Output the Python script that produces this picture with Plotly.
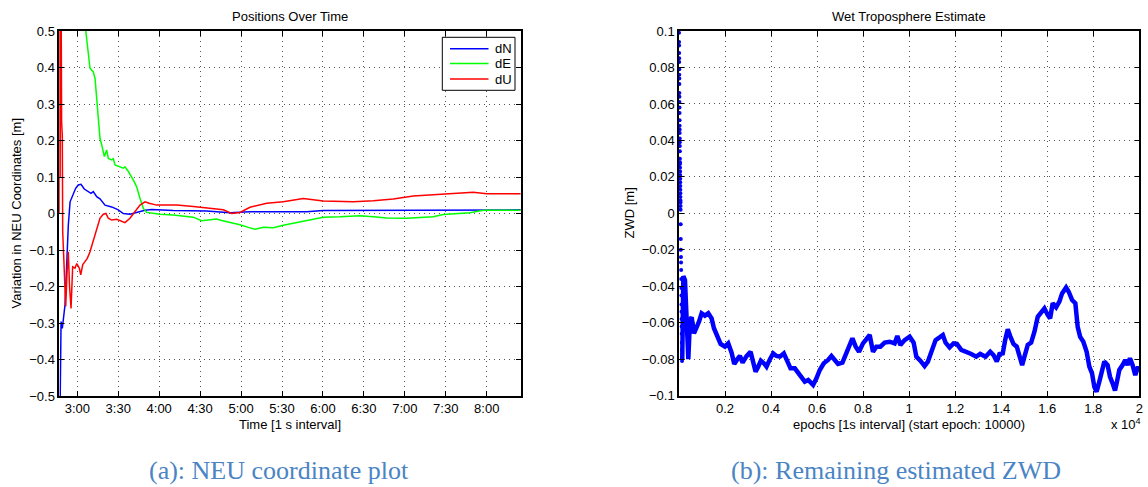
import plotly.graph_objects as go

# ---------------- NEU coordinate variation (left panel) ----------------
# time of day in minutes, values in metres
dN_t = [167.1, 167.5, 168.1, 169.0, 169.7, 171.0, 172.2, 173.4, 174.7, 175.9, 177.1,
        178.8, 180.7, 182.7, 185.1, 187.6, 190.0, 191.7, 194.2, 196.6, 200.3, 205.2,
        210.0, 213.7, 218.6, 224.7, 229.6, 234.5, 244.3, 250.3, 274.8, 291.9, 306.5,
        348.1, 360.2, 396.9, 445.7, 470.1, 505.0]
dN = [-0.62, -0.40, -0.296, -0.315, -0.287, -0.25, -0.141, -0.032, 0.032, 0.042, 0.055,
      0.069, 0.078, 0.080, 0.067, 0.060, 0.055, 0.060, 0.046, 0.040, 0.023, 0.018,
      0.010, 0.0, -0.002, 0.004, 0.009, 0.011, 0.009, 0.008, 0.007, 0.002, 0.005,
      0.005, 0.008, 0.009, 0.010, 0.010, 0.010]

dE_t = [167.0, 186.2, 189.3, 191.7, 193.0, 194.2, 195.4, 196.6, 197.9, 199.8, 201.5,
        202.7, 205.2, 206.4, 207.6, 211.3, 213.7, 214.9, 217.4, 221.0, 223.5, 225.9,
        228.4, 230.8, 236.9, 240.6, 250.3, 261.3, 265.0, 271.1, 277.2, 282.1, 285.8,
        291.9, 299.2, 305.3, 310.2, 316.3, 323.6, 330.9, 343.2, 352.9, 360.2, 372.5,
        387.1, 396.9, 406.7, 421.3, 431.1, 440.8, 448.2, 458.0, 467.7, 477.5, 505.0]
dE = [1.30, 0.50, 0.398, 0.388, 0.37, 0.306, 0.26, 0.206, 0.188, 0.156, 0.174,
      0.151, 0.147, 0.150, 0.133, 0.128, 0.124, 0.128, 0.115, 0.092, 0.073, 0.042,
      0.014, 0.003, 0.0, -0.002, -0.004, -0.007, -0.010, -0.020, -0.018, -0.015, -0.019,
      -0.024, -0.031, -0.038, -0.043, -0.038, -0.039, -0.032, -0.022, -0.015, -0.010, -0.009,
      -0.006, -0.009, -0.012, -0.013, -0.011, -0.009, -0.003, 0.0, 0.002, 0.009, 0.009]

dU_t = [166.8, 167.0, 167.4, 167.9, 168.5, 169.0, 169.3, 170.5, 171.5, 172.5, 173.4,
        174.3, 175.4, 176.6, 178.3, 179.6, 181.5, 182.5, 184.0, 185.6, 187.3, 189.3,
        191.7, 194.2, 196.6, 199.0, 201.0, 202.7, 205.2, 208.9, 212.5, 214.9, 218.6,
        221.0, 225.9, 229.6, 232.6, 238.2, 252.8, 265.0, 269.9, 279.6, 287.0, 293.1,
        299.2, 306.5, 318.8, 330.9, 345.6, 360.2, 382.2, 396.9, 411.5, 426.2, 445.7,
        470.1, 480.0, 505.0]
dU = [0.0, 0.75, 0.10, 0.80, 0.25, 0.215, -0.05, -0.18, -0.255, -0.16, -0.105,
      -0.20, -0.26, -0.146, -0.150, -0.137, -0.150, -0.168, -0.140, -0.132, -0.123, -0.105,
      -0.077, -0.045, -0.013, -0.002, 0.0, -0.013, -0.018, -0.016, -0.022, -0.025, -0.013,
      0.0, 0.023, 0.032, 0.028, 0.023, 0.023, 0.019, 0.017, 0.011, 0.010, 0.0,
      0.003, 0.017, 0.028, 0.032, 0.041, 0.034, 0.032, 0.035, 0.040, 0.048, 0.052,
      0.058, 0.054, 0.054]

neu_series = ["dN", "dE", "dU"]
neu_colors = {"dN": "#0000ff", "dE": "#00ff00", "dU": "#ff0000"}

time_ticks = [180, 210, 240, 270, 300, 330, 360, 390, 420, 450, 480]
time_labels = ["3:00", "3:30", "4:00", "4:30", "5:00", "5:30", "6:00", "6:30", "7:00", "7:30", "8:00"]
neu_ticks = [-0.5, -0.4, -0.3, -0.2, -0.1, 0.0, 0.1, 0.2, 0.3, 0.4, 0.5]
neu_labels = ["\u22120.5", "\u22120.4", "\u22120.3", "\u22120.2", "\u22120.1", "0",
              "0.1", "0.2", "0.3", "0.4", "0.5"]

# ---------------- ZWD estimate (right panel) ----------------
# convergence phase, epochs after start epoch 10000
zwd_init_epoch = [1, 3, 4, 6, 7, 9, 10, 12, 14, 15, 17, 19, 20, 22, 24, 25, 27, 29, 31, 32,
                  34, 36, 38, 40, 42, 44, 46, 48, 50, 52, 54, 56, 58, 60, 62, 64, 66, 68, 70,
                  74, 78, 82, 86, 90, 94, 98, 102, 105, 108, 111, 114, 117, 120, 123, 126,
                  129, 132]
zwd_init = [0.099, 0.094, 0.092, 0.088, 0.085, 0.083, 0.079, 0.076, 0.074, 0.071, 0.066,
            0.064, 0.061, 0.058, 0.055, 0.051, 0.048, 0.046, 0.044, 0.041, 0.039, 0.037,
            0.034, 0.030, 0.028, 0.027, 0.025, 0.023, 0.021, 0.019, 0.017, 0.015, 0.013,
            0.011, 0.009, 0.007, 0.006, 0.004, 0.002, -0.006, -0.014, -0.020, -0.024,
            -0.027, -0.031, -0.036, -0.041, -0.045, -0.050, -0.054, -0.058, -0.062, -0.066,
            -0.071, -0.075, -0.079, -0.081]

zwd_epoch = [140, 188, 260, 304, 362, 405, 477, 550, 651, 767, 868, 983, 1128, 1272, 1417,
             1518, 1663, 1808, 1995, 2140, 2285, 2400, 2530, 2646, 2762, 2936, 3110, 3225,
             3327, 3442, 3557, 3687, 3803, 3947, 4092, 4237, 4381, 4555, 4700, 4845, 5032,
             5175, 5323, 5466, 5611, 5827, 5973, 6117, 6291, 6477, 6624, 6767, 6911, 7101,
             7245, 7388, 7535, 7678, 7822, 7995, 8169, 8286, 8429, 8577, 8750, 8937, 9154,
             9370, 9487, 9617, 9804, 10021, 10195, 10312, 10485, 10671, 10815, 10962, 11149,
             11322, 11465, 11583, 11756, 11930, 12073, 12264, 12481, 12698, 12915, 13089,
             13318, 13522, 13665, 13808, 13925, 14068, 14172, 14285, 14389, 14532, 14676,
             14793, 14910, 15010, 15153, 15301, 15444, 15587, 15734, 15877, 16020, 16125,
             16238, 16385, 16528, 16645, 16819, 16932, 17079, 17222, 17322, 17426, 17569,
             17712, 17829, 17946, 18046, 18146, 18263, 18380, 18480, 18623, 18727, 18840,
             18944, 19031, 19131, 19274, 19391, 19491, 19595, 19708, 19825, 19925, 20000]
zwd = [-0.0804, -0.0344, -0.0366, -0.0475, -0.0695, -0.0800, -0.0585, -0.0570, -0.0658,
       -0.0630, -0.0594, -0.0548, -0.0561, -0.0548, -0.0576, -0.0630, -0.0673, -0.0716,
       -0.0731, -0.0713, -0.0764, -0.0826, -0.0801, -0.0782, -0.0819, -0.0783, -0.0759,
       -0.0832, -0.0868, -0.0841, -0.0808, -0.0822, -0.0841, -0.0801, -0.0768, -0.0782,
       -0.0786, -0.0768, -0.0804, -0.0850, -0.0850, -0.0877, -0.0896, -0.0923, -0.0914,
       -0.0941, -0.0905, -0.0859, -0.0822, -0.0804, -0.0782, -0.0801, -0.0826, -0.0819,
       -0.0777, -0.0731, -0.0686, -0.0731, -0.0759, -0.0713, -0.0680, -0.0667, -0.0759,
       -0.0731, -0.0731, -0.0709, -0.0704, -0.0713, -0.0673, -0.0722, -0.0695, -0.0676,
       -0.0709, -0.0786, -0.0808, -0.0837, -0.0813, -0.0768, -0.0695, -0.0680, -0.0667,
       -0.0709, -0.0735, -0.0713, -0.0716, -0.0749, -0.0759, -0.0771, -0.0786, -0.0771,
       -0.0786, -0.0759, -0.0777, -0.0813, -0.0771, -0.0768, -0.0695, -0.0636, -0.0673,
       -0.0716, -0.0731, -0.0786, -0.0832, -0.0786, -0.0722, -0.0709, -0.0649, -0.0567,
       -0.0539, -0.0521, -0.0557, -0.0576, -0.0493, -0.0515, -0.0484, -0.0439, -0.0406,
       -0.0430, -0.0475, -0.0493, -0.0622, -0.0676, -0.0704, -0.0759, -0.0841, -0.0877,
       -0.0951, -0.0978, -0.0923, -0.0850, -0.0813, -0.0832, -0.0896, -0.0932, -0.0972,
       -0.0923, -0.0859, -0.0832, -0.0804, -0.0832, -0.0795, -0.0832, -0.0887, -0.0850,
       -0.0850]

epoch_ticks = [2000, 4000, 6000, 8000, 10000, 12000, 14000, 16000, 18000, 20000]
epoch_labels = ["0.2", "0.4", "0.6", "0.8", "1", "1.2", "1.4", "1.6", "1.8", "2"]
zwd_ticks = [-0.1, -0.08, -0.06, -0.04, -0.02, 0.0, 0.02, 0.04, 0.06, 0.08, 0.1]
zwd_labels = ["\u22120.1", "\u22120.08", "\u22120.06", "\u22120.04", "\u22120.02", "0",
              "0.02", "0.04", "0.06", "0.08", "0.1"]

W, H = 1148, 487
SANS = "Liberation Sans, Arial, Helvetica, sans-serif"


def px(x):
    return x / W


def py(y):
    return 1 - y / H


fig = go.Figure()
for name, t, v in zip(neu_series, [dN_t, dE_t, dU_t], [dN, dE, dU]):
    fig.add_trace(go.Scatter(x=t, y=v, mode="lines", name=name, showlegend=False,
                             line=dict(color=neu_colors[name], width=1.5),
                             xaxis="x", yaxis="y"))
fig.add_trace(go.Scatter(x=zwd_init_epoch, y=zwd_init, mode="markers", showlegend=False,
                         marker=dict(color="#0000ff", size=4), xaxis="x2", yaxis="y2"))
fig.add_trace(go.Scatter(x=zwd_epoch, y=zwd, mode="lines", showlegend=False,
                         line=dict(color="#0000ff", width=4.5), xaxis="x2", yaxis="y2"))

axis_common = dict(
    showline=True, linecolor="black", linewidth=1.5, mirror="ticks",
    ticks="inside", ticklen=5, tickwidth=1, tickcolor="black",
    showgrid=True, gridcolor="#555555", gridwidth=1, griddash="1px,4px",
    zeroline=False, automargin=False,
    tickfont=dict(family=SANS, size=13, color="black"),
)

fig.update_layout(
    width=W, height=H,
    margin=dict(l=0, r=0, t=0, b=0, pad=0, autoexpand=False),
    paper_bgcolor="white", plot_bgcolor="white",
    xaxis=dict(domain=[px(59.3), px(520.7)], range=[166.8, 504.9],
               tickmode="array", tickvals=time_ticks, ticktext=time_labels,
               anchor="y", **axis_common),
    yaxis=dict(domain=[py(396), py(31)], range=[-0.5, 0.5],
               tickmode="array", tickvals=neu_ticks, ticktext=neu_labels,
               anchor="x", **axis_common),
    xaxis2=dict(domain=[px(679), px(1139.3)], range=[0, 20000],
                tickmode="array", tickvals=epoch_ticks, ticktext=epoch_labels,
                anchor="y2", **axis_common),
    yaxis2=dict(domain=[py(395.7), py(31)], range=[-0.1, 0.1],
                tickmode="array", tickvals=zwd_ticks, ticktext=zwd_labels,
                anchor="x2", **axis_common),
    showlegend=False,
)

label_font = dict(family=SANS, size=13, color="black")
caption_font = dict(family="Liberation Serif, Times New Roman, serif", size=26, color="#4a84c4")

annotations = [
    dict(text="Positions Over Time", x=px(290), y=py(16.5), font=label_font),
    dict(text="Wet Troposphere Estimate", x=px(909), y=py(16.5), font=label_font),
    dict(text="Time [1 s interval]", x=px(290), y=py(424), font=label_font),
    dict(text="epochs [1s interval] (start epoch: 10000)", x=px(909), y=py(424), font=label_font),
    dict(text="Variation in NEU Coordinates [m]", x=px(16), y=py(213.5), textangle=-90, font=label_font),
    dict(text="ZWD [m]", x=px(629), y=py(213.5), textangle=-90, font=label_font),
    dict(text="x 10<sup>4</sup>", x=px(1126), y=py(424), font=label_font),
    dict(text="(a): NEU coordinate plot", x=px(279), y=py(470), font=caption_font),
    dict(text="(b): Remaining estimated ZWD", x=px(896), y=py(470), font=caption_font),
]

# legend box for the NEU panel: frame, line samples and series names
legend_left, legend_right, legend_top, legend_bottom = 442.3, 515.0, 37.3, 90.3
row_y = [48.7, 63.5, 79.0]
shapes = [dict(type="rect", xref="paper", yref="paper",
               x0=px(legend_left), x1=px(legend_right), y0=py(legend_bottom), y1=py(legend_top),
               line=dict(color="black", width=1), fillcolor="white", layer="above")]
for name, ry in zip(neu_series, row_y):
    shapes.append(dict(type="line", xref="paper", yref="paper",
                       x0=px(450), x1=px(488.5), y0=py(ry), y1=py(ry),
                       line=dict(color=neu_colors[name], width=1.5), layer="above"))
    annotations.append(dict(text=name, x=px(492.5), y=py(ry), xanchor="left",
                            font=label_font))

for a in annotations:
    a.setdefault("xanchor", "center")
    a.update(xref="paper", yref="paper", showarrow=False, yanchor="middle")
fig.update_layout(annotations=annotations, shapes=shapes)

fig.write_html("out.html")
